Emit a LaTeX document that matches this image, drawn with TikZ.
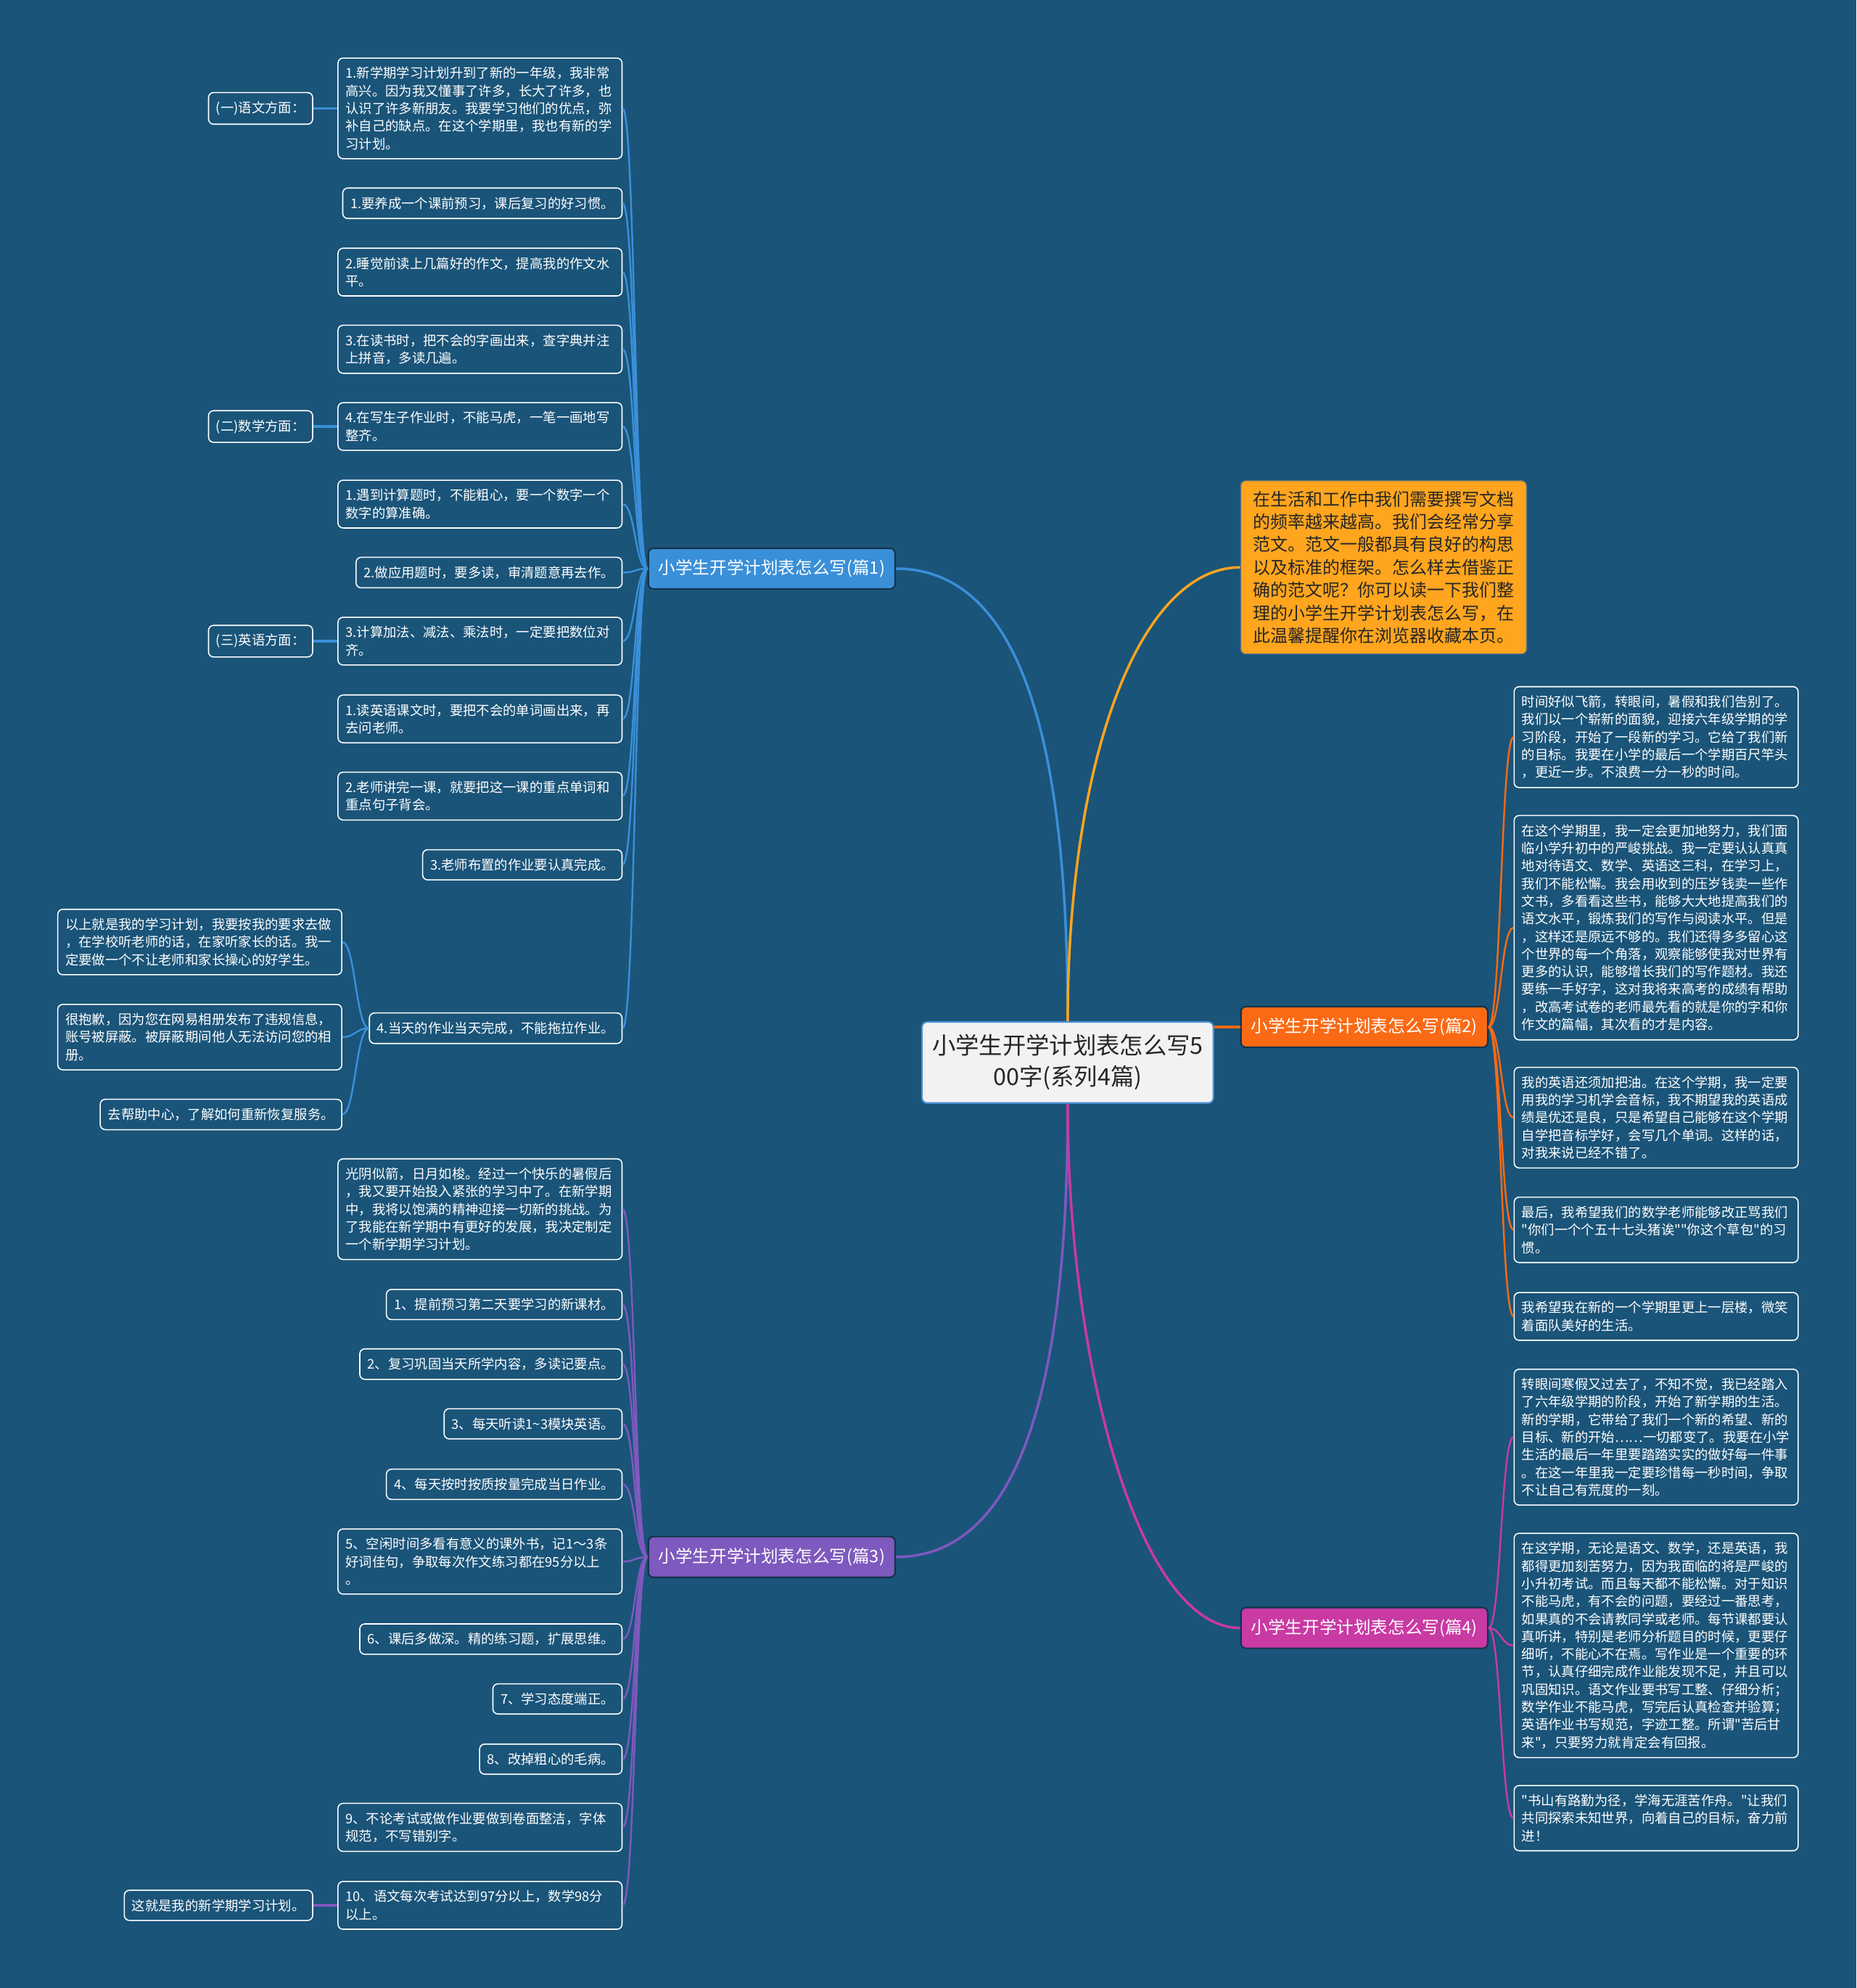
\documentclass[tikz,border=0pt]{standalone}
\usepackage{fontspec}
\setmainfont{Noto Sans CJK SC}
\newfontfamily\plainq{Noto Sans CJK SC}
\newcommand{\straightq}{{\plainq\symbol{34}}}
\definecolor{bg}{HTML}{1A5479}
\definecolor{c1}{HTML}{3A8FD9}
\definecolor{c2}{HTML}{FA6A14}
\definecolor{c3}{HTML}{7E59BE}
\definecolor{c4}{HTML}{C93AA3}
\definecolor{c5}{HTML}{FFA51E}
\definecolor{rim}{HTML}{4A8FD6}
\definecolor{edge}{HTML}{14334A}
\definecolor{paper}{HTML}{F2F2F2}
\definecolor{ink}{HTML}{262626}

\begin{document}
\begin{tikzpicture}[
    x=1pt, y=-1pt,
    root/.style={rectangle, rounded corners=4pt, draw=rim, fill=paper, line width=1.2pt,
        text=ink, font=\fontsize{18.5}{24.6}\selectfont, align=center, inner xsep=8pt, inner ysep=10pt},
    topic/.style={rectangle, rounded corners=4pt, draw=edge, line width=1.2pt, text=white,
        font=\fontsize{13.5}{16}\selectfont, inner xsep=8pt, inner ysep=9pt},
    memo/.style={rectangle, rounded corners=4pt, draw=edge!70, fill=c5, line width=0.8pt, text=ink,
        font=\fontsize{13.7}{18}\selectfont, align=left, inner xsep=10pt, inner ysep=8pt},
    leaf/.style={rectangle, rounded corners=4pt, draw=white, line width=0.9pt, fill=bg, text=white,
        font=\fontsize{10.5}{13.9}\selectfont, inner xsep=6pt, inner ysep=7pt},
    para/.style={leaf, align=left, text width=212pt},
    trunk/.style={line width=2pt},
    link/.style={line width=1.4pt},
    tab/.style={line width=2pt},
]
\fill[bg] (0,0) rectangle (1464,1568);
\useasboundingbox (0,0) rectangle (1464,1568);

% ============================================================ centre and the four parts
\node[root] (centre) at (842, 838) {小学生开学计划表怎么写5\\00字(系列4篇)};

\node[topic, fill=c1, anchor=east] (p1) at (706.5, 448.5) {小学生开学计划表怎么写(篇1)};
\node[topic, fill=c2, anchor=west] (p2) at (978, 810) {小学生开学计划表怎么写(篇2)};
\node[topic, fill=c3, anchor=east] (p3) at (706.5, 1228) {小学生开学计划表怎么写(篇3)};
\node[topic, fill=c4, anchor=west] (p4) at (978, 1284) {小学生开学计划表怎么写(篇4)};

\node[memo, anchor=west] (intro) at (978, 447.5)
    {在生活和工作中我们需要撰写文档\\的频率越来越高。我们会经常分享\\范文。范文一般都具有良好的构思\\以及标准的框架。怎么样去借鉴正\\确的范文呢？你可以读一下我们整\\理的小学生开学计划表怎么写，在\\此温馨提醒你在浏览器收藏本页。};

\draw[c1, trunk] (centre.north) .. controls +(0,-205) and +(104,0) .. (p1.east);
\draw[c5, trunk] (centre.north) .. controls +(0,-205) and +(-80,0) .. (intro.west);
\draw[c2, trunk] (centre.east |- p2.west) -- (p2.west);
\draw[c3, trunk] (centre.south) .. controls +(0,205) and +(104,0) .. (p3.east);
\draw[c4, trunk] (centre.south) .. controls +(0,205) and +(-80,0) .. (p4.west);

% ============================================================ part 1, left
\node[para, anchor=east] (p1a) at (491, 85.5)
    {1.新学期学习计划升到了新的一年级，我非常\\高兴。因为我又懂事了许多，长大了许多，也\\认识了许多新朋友。我要学习他们的优点，弥\\补自己的缺点。在这个学期里，我也有新的学\\习计划。};
\node[leaf, anchor=east] (p1b) at (491, 160.3) {1.要养成一个课前预习，课后复习的好习惯。};
\node[para, anchor=east] (p1c) at (491, 214.6) {2.睡觉前读上几篇好的作文，提高我的作文水\\平。};
\node[para, anchor=east] (p1d) at (491, 275.5) {3.在读书时，把不会的字画出来，查字典并注\\上拼音，多读几遍。};
\node[para, anchor=east] (p1e) at (491, 336.4) {4.在写生子作业时，不能马虎，一笔一画地写\\整齐。};
\node[para, anchor=east] (p1f) at (491, 397.6) {1.遇到计算题时，不能粗心，要一个数字一个\\数字的算准确。};
\node[leaf, anchor=east] (p1g) at (491, 451.6) {2.做应用题时，要多读，审清题意再去作。};
\node[para, anchor=east] (p1h) at (491, 505.7) {3.计算加法、减法、乘法时，一定要把数位对\\齐。};
\node[para, anchor=east] (p1i) at (491, 567) {1.读英语课文时，要把不会的单词画出来，再\\去问老师。};
\node[para, anchor=east] (p1j) at (491, 627.9) {2.老师讲完一课，就要把这一课的重点单词和\\重点句子背会。};
\node[leaf, anchor=east] (p1k) at (491, 682.1) {3.老师布置的作业要认真完成。};
\node[leaf, anchor=east] (p1l) at (491, 811) {4.当天的作业当天完成，不能拖拉作业。};

\foreach \n in {p1a,p1b,p1c,p1d,p1e,p1f,p1g,p1h,p1i,p1j,p1k,p1l}
    \draw[c1, link] (p1.west) .. controls +(-10,0) and +(10,0) .. (\n.east);

% the three subject tags
\node[leaf, anchor=east] (yuwen) at (247, 85.5) {(一)语文方面：};
\node[leaf, anchor=east] (shuxue) at (247, 336.4) {(二)数学方面：};
\node[leaf, anchor=east] (yingyu) at (247, 505.7) {(三)英语方面：};
\draw[c1, tab] (p1a.west) -- (yuwen.east);
\draw[c1, tab] (p1e.west) -- (shuxue.east);
\draw[c1, tab] (p1h.west) -- (yingyu.east);

% notes hanging off item 4
\node[para, anchor=east] (n1) at (270, 743)
    {以上就是我的学习计划，我要按我的要求去做\\，在学校听老师的话，在家听家长的话。我一\\定要做一个不让老师和家长操心的好学生。};
\node[para, anchor=east] (n2) at (270, 818)
    {很抱歉，因为您在网易相册发布了违规信息，\\账号被屏蔽。被屏蔽期间他人无法访问您的相\\册。};
\node[leaf, anchor=east] (n3) at (270, 879) {去帮助中心，了解如何重新恢复服务。};
\foreach \n in {n1,n2,n3}
    \draw[c1, link] (p1l.west) .. controls +(-10,0) and +(10,0) .. (\n.east);

% ============================================================ part 3, left
\node[para, anchor=east] (p3a) at (491, 953.7)
    {光阴似箭，日月如梭。经过一个快乐的暑假后\\，我又要开始投入紧张的学习中了。在新学期\\中，我将以饱满的精神迎接一切新的挑战。为\\了我能在新学期中有更好的发展，我决定制定\\一个新学期学习计划。};
\node[leaf, anchor=east] (p3b) at (491, 1028.9) {1、提前预习第二天要学习的新课材。};
\node[leaf, anchor=east] (p3c) at (491, 1075.9) {2、复习巩固当天所学内容，多读记要点。};
\node[leaf, anchor=east] (p3d) at (491, 1123) {3、每天听读1\textasciitilde 3模块英语。};
\node[leaf, anchor=east] (p3e) at (491, 1170.7) {4、每天按时按质按量完成当日作业。};
\node[para, anchor=east] (p3f) at (491, 1231.6) {5、空闲时间多看有意义的课外书，记1～3条\\好词佳句，争取每次作文练习都在95分以上\\。};
\node[leaf, anchor=east] (p3g) at (491, 1292.8) {6、课后多做深。精的练习题，扩展思维。};
\node[leaf, anchor=east] (p3h) at (491, 1340) {7、学习态度端正。};
\node[leaf, anchor=east] (p3i) at (491, 1387.5) {8、改掉粗心的毛病。};
\node[para, anchor=east] (p3j) at (491, 1441.3) {9、不论考试或做作业要做到卷面整洁，字体\\规范，不写错别字。};
\node[para, anchor=east] (p3k) at (491, 1502.8) {10、语文每次考试达到97分以上，数学98分\\以上。};

\foreach \n in {p3a,p3b,p3c,p3d,p3e,p3f,p3g,p3h,p3i,p3j,p3k}
    \draw[c3, link] (p3.west) .. controls +(-10,0) and +(10,0) .. (\n.east);

\node[leaf, anchor=east] (p3end) at (247, 1502.8) {这就是我的新学期学习计划。};
\draw[c3, tab] (p3k.west) -- (p3end.east);

% ============================================================ part 2, right
\node[para, anchor=west] (p2a) at (1193.6, 581.4)
    {时间好似飞箭，转眼间，暑假和我们告别了。\\我们以一个崭新的面貌，迎接六年级学期的学\\习阶段，开始了一段新的学习。它给了我们新\\的目标。我要在小学的最后一个学期百尺竿头\\，更近一步。不浪费一分一秒的时间。};
\node[para, anchor=west] (p2b) at (1193.6, 731.7)
    {在这个学期里，我一定会更加地努力，我们面\\临小学升初中的严峻挑战。我一定要认认真真\\地对待语文、数学、英语这三科，在学习上，\\我们不能松懈。我会用收到的压岁钱卖一些作\\文书，多看看这些书，能够大大地提高我们的\\语文水平，锻炼我们的写作与阅读水平。但是\\，这样还是原远不够的。我们还得多多留心这\\个世界的每一个角落，观察能够使我对世界有\\更多的认识，能够增长我们的写作题材。我还\\要练一手好字，这对我将来高考的成绩有帮助\\，改高考试卷的老师最先看的就是你的字和你\\作文的篇幅，其次看的才是内容。};
\node[para, anchor=west] (p2c) at (1193.6, 881.5)
    {我的英语还须加把油。在这个学期，我一定要\\用我的学习机学会音标，我不期望我的英语成\\绩是优还是良，只是希望自己能够在这个学期\\自学把音标学好，会写几个单词。这样的话，\\对我来说已经不错了。};
\node[para, anchor=west] (p2d) at (1193.6, 970)
    {最后，我希望我们的数学老师能够改正骂我们\\\straightq 你们一个个五十七头猪诶\straightq\straightq 你这个草包\straightq 的习\\惯。};
\node[para, anchor=west] (p2e) at (1193.6, 1038.3)
    {我希望我在新的一个学期里更上一层楼，微笑\\着面队美好的生活。};

\foreach \n in {p2a,p2b,p2c,p2d,p2e}
    \draw[c2, link] (p2.east) .. controls +(10,0) and +(-10,0) .. (\n.west);

% ============================================================ part 4, right
\node[para, anchor=west] (p4a) at (1193.6, 1133.5)
    {转眼间寒假又过去了，不知不觉，我已经踏入\\了六年级学期的阶段，开始了新学期的生活。\\新的学期，它带给了我们一个新的希望、新的\\目标、新的开始……一切都变了。我要在小学\\生活的最后一年里要踏踏实实的做好每一件事\\。在这一年里我一定要珍惜每一秒时间，争取\\不让自己有荒度的一刻。};
\node[para, anchor=west] (p4b) at (1193.6, 1297.8)
    {在这学期，无论是语文、数学，还是英语，我\\都得更加刻苦努力，因为我面临的将是严峻的\\小升初考试。而且每天都不能松懈。对于知识\\不能马虎，有不会的问题，要经过一番思考，\\如果真的不会请教同学或老师。每节课都要认\\真听讲，特别是老师分析题目的时候，更要仔\\细听，不能心不在焉。写作业是一个重要的环\\节，认真仔细完成作业能发现不足，并且可以\\巩固知识。语文作业要书写工整、仔细分析；\\数学作业不能马虎，写完后认真检查并验算；\\英语作业书写规范，字迹工整。所谓\straightq 苦后甘\\来\straightq ，只要努力就肯定会有回报。};
\node[para, anchor=west] (p4c) at (1193.6, 1434)
    {\straightq 书山有路勤为径，学海无涯苦作舟。\straightq 让我们\\共同探索未知世界，向着自己的目标，奋力前\\进！};

\foreach \n in {p4a,p4b,p4c}
    \draw[c4, link] (p4.east) .. controls +(10,0) and +(-10,0) .. (\n.west);

\end{tikzpicture}
\end{document}
